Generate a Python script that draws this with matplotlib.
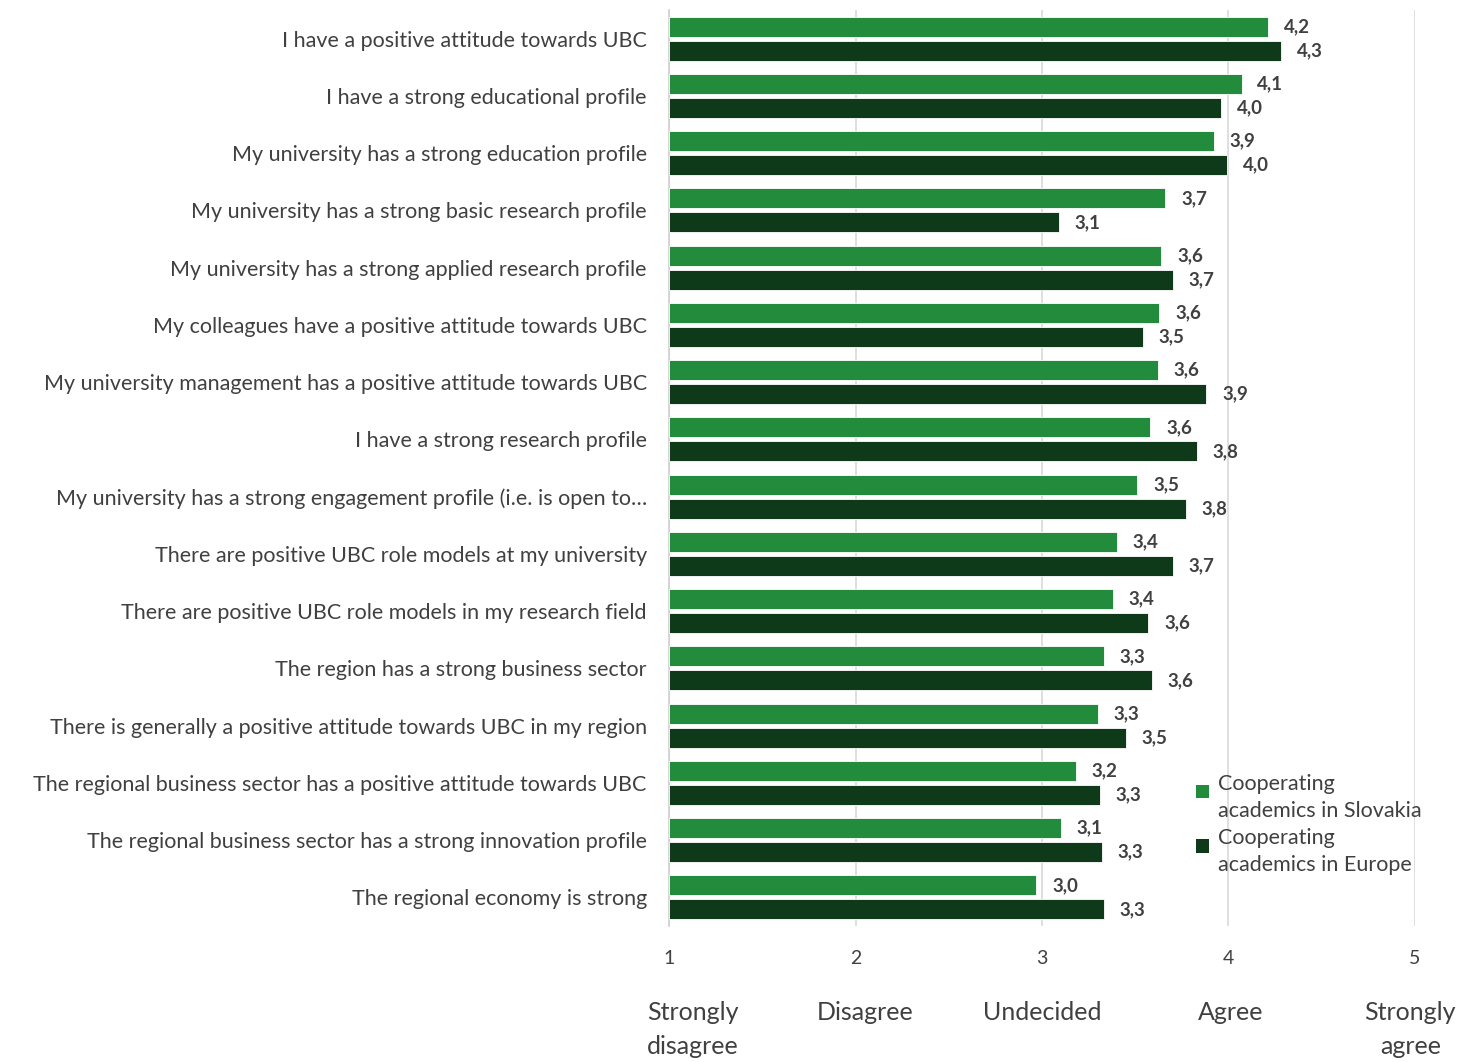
import numpy as np
import matplotlib
matplotlib.use("Agg")
import matplotlib.pyplot as plt
import matplotlib.patches as mpatches
from matplotlib.container import BarContainer
from matplotlib.legend_handler import HandlerPatch, update_from_first_child

plt.rcParams["font.family"] = ["Lato", "DejaVu Sans"]

categories = [
    "I have a positive attitude towards UBC",
    "I have a strong educational profile",
    "My university has a strong education profile",
    "My university has a strong basic research profile",
    "My university has a strong applied research profile",
    "My colleagues have a positive attitude towards UBC",
    "My university management has a positive attitude towards UBC",
    "I have a strong research profile",
    "My university has a strong engagement profile (i.e. is open to\u2026",
    "There are positive UBC role models at my university",
    "There are positive UBC role models in my research field",
    "The region has a strong business sector",
    "There is generally a positive attitude towards UBC in my region",
    "The regional business sector has a positive attitude towards UBC",
    "The regional business sector has a strong innovation profile",
    "The regional economy is strong",
]
slovakia = [4.21, 4.07, 3.92, 3.66, 3.64, 3.63, 3.62, 3.58,
            3.51, 3.40, 3.38, 3.33, 3.30, 3.18, 3.10, 2.97]
europe = [4.28, 3.96, 3.99, 3.09, 3.70, 3.54, 3.88, 3.83,
          3.77, 3.70, 3.57, 3.59, 3.45, 3.31, 3.32, 3.33]
scale_ticks = [1, 2, 3, 4, 5]
scale_labels = ["Strongly\ndisagree", "Disagree", "Undecided", "Agree", "Strongly\nagree"]
series_names = ["Cooperating\nacademics in Slovakia", "Cooperating\nacademics in Europe"]

c_sk = "#238b3c"
c_eu = "#0e3a1a"
txt = "#404040"


def top_square(legend, orig_handle, xdescent, ydescent, width, height, fontsize):
    # small square next to the first line of a two-line label
    s = 0.62 * fontsize
    return mpatches.Rectangle((-xdescent, -ydescent + height - s - 0.32 * fontsize), s, s)


fig = plt.figure(figsize=(14.77, 10.62), dpi=100)
ax = fig.add_axes([669 / 1477, 1 - 926 / 1062, (1415 - 669) / 1477, (926 - 10) / 1062])

y = np.arange(len(categories))
h = 0.35
off = 0.21
ax.barh(y - off, np.array(slovakia) - 1, left=1, height=h, color=c_sk,
        edgecolor="white", linewidth=0.6, label=series_names[0], zorder=3)
ax.barh(y + off, np.array(europe) - 1, left=1, height=h, color=c_eu,
        edgecolor="white", linewidth=0.6, label=series_names[1], zorder=3)

for yy, v in zip(y, slovakia):
    ax.text(v + 0.085, yy - off, f"{v:.1f}".replace(".", ","), va="center",
            ha="left", fontsize=13.5, fontweight="bold", color=txt)
for yy, v in zip(y, europe):
    ax.text(v + 0.085, yy + off, f"{v:.1f}".replace(".", ","), va="center",
            ha="left", fontsize=13.5, fontweight="bold", color=txt)

ax.set_xlim(1, 5)
ax.set_ylim(len(categories) - 0.5, -0.5)
ax.set_yticks(y)
ax.set_yticklabels(categories, fontsize=15.5, color=txt)
ax.set_xticks(scale_ticks)
ax.set_xticklabels([str(t) for t in scale_ticks], fontsize=14, color=txt)
ax.tick_params(axis="both", length=0)
ax.tick_params(axis="y", pad=16)
ax.tick_params(axis="x", pad=17)

# answer-scale captions under the numeric ticks
cap_x = [0.88, 2.05, 3.0, 4.01, 5.22]
cap_ha = ["left", "center", "center", "center", "right"]
for xx, ha, lab in zip(cap_x, cap_ha, scale_labels):
    ax.text(xx, -0.082, lab, transform=ax.get_xaxis_transform(), ha=ha,
            va="top", fontsize=18, color=txt, linespacing=1.55,
            multialignment="center")

ax.grid(axis="x", color="#d9d9d9", linewidth=1.2, zorder=0)
ax.set_axisbelow(True)
for s in ["top", "right", "bottom"]:
    ax.spines[s].set_visible(False)
ax.spines["left"].set_color("#d0d0d0")
ax.spines["left"].set_linewidth(1.2)

handler = HandlerPatch(patch_func=top_square, update_func=update_from_first_child)
leg = ax.legend(loc="lower right", bbox_to_anchor=(1.035, 0.034), frameon=False,
                fontsize=15.5, handlelength=0.62, handleheight=2.6,
                handletextpad=0.4, labelspacing=0.35,
                handler_map={BarContainer: handler})
for t in leg.get_texts():
    t.set_color(txt)
    t.set_linespacing(1.45)
for p in leg.get_patches():
    p.set_edgecolor("none")

fig.savefig("out.png", dpi=100)
